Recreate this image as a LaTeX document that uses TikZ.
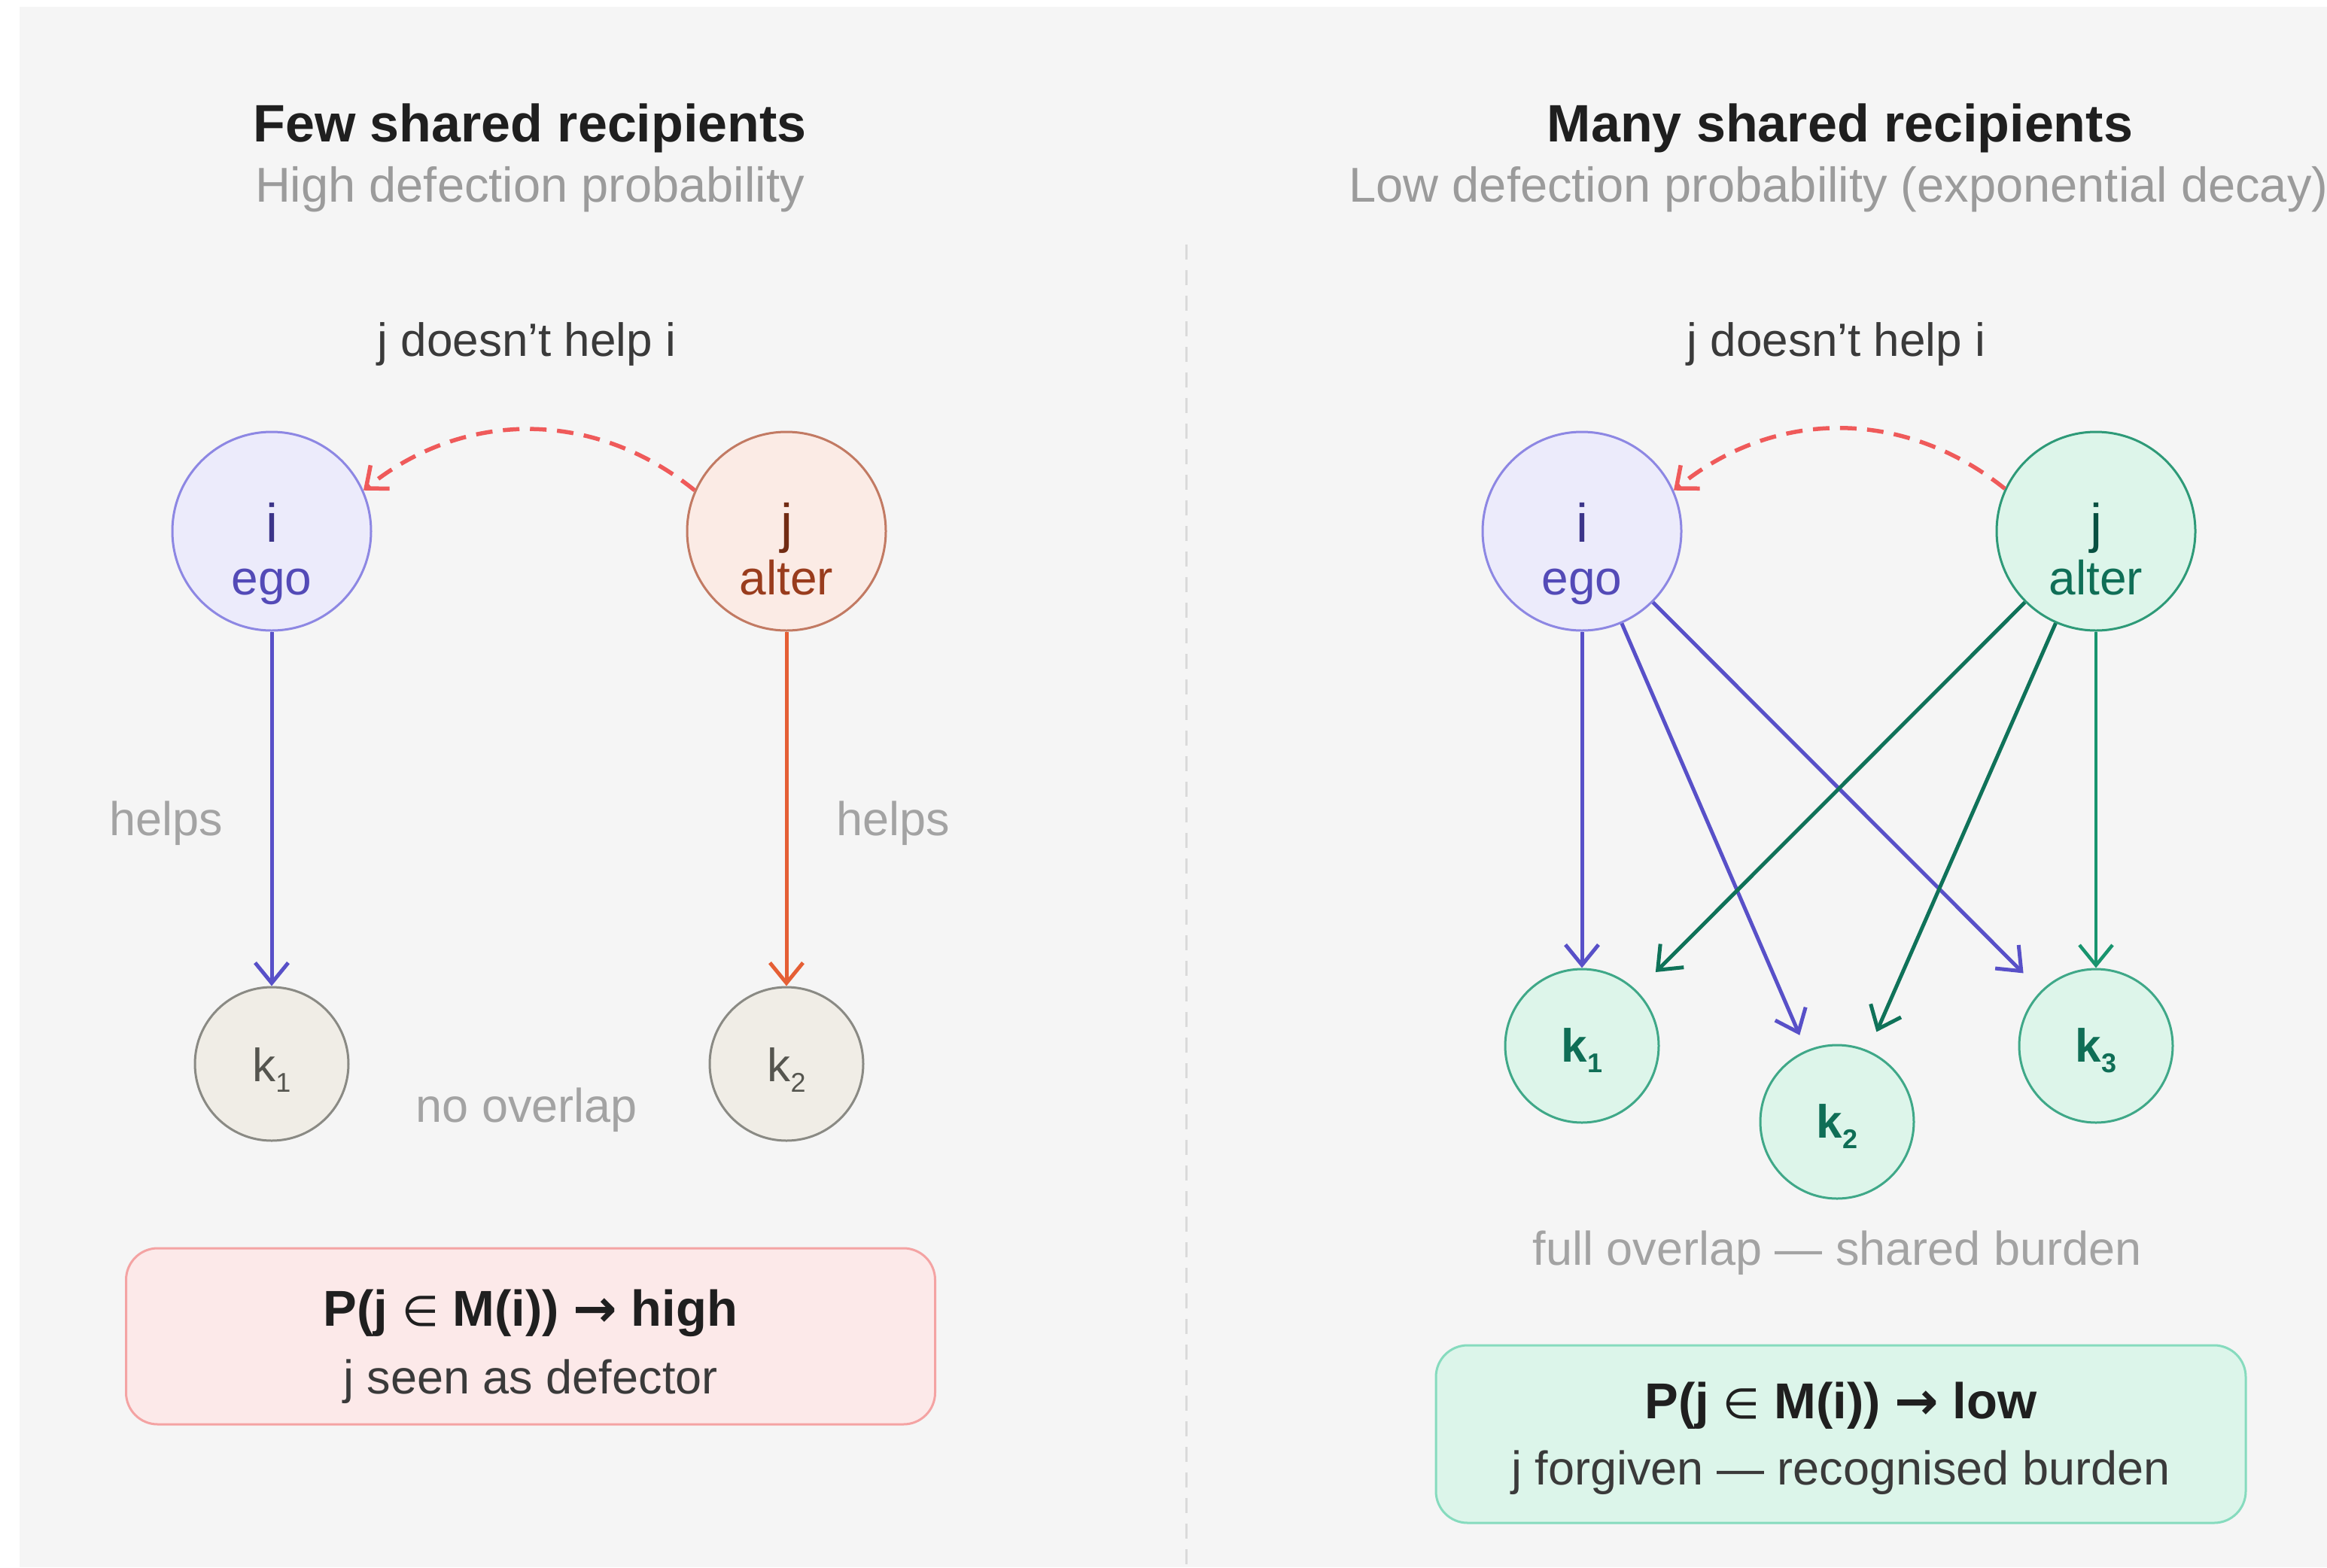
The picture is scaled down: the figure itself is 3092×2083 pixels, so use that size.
\documentclass[tikz,border=0pt]{standalone}
\usepackage{fontspec}
\setmainfont{Liberation Sans}
\newfontfamily\symf{DejaVu Sans}
\usetikzlibrary{arrows.meta,calc}
\newcommand\fsz[1]{\fontsize{#1}{#1}\selectfont}
\definecolor{bg}{HTML}{F5F5F5}
\definecolor{titlec}{HTML}{1F1F1F}
\definecolor{subc}{HTML}{9B9B9B}
\definecolor{labc}{HTML}{3A3A3A}
\definecolor{mutedc}{HTML}{A3A3A3}
\definecolor{egofill}{HTML}{ECEBFB}
\definecolor{egostroke}{HTML}{8D87E3}
\definecolor{egotxta}{HTML}{3C3489}
\definecolor{egotxtb}{HTML}{534AB7}
\definecolor{altfill}{HTML}{FBEBE5}
\definecolor{altstroke}{HTML}{C27A63}
\definecolor{alttxta}{HTML}{712B13}
\definecolor{alttxtb}{HTML}{993C1D}
\definecolor{tealfill}{HTML}{DDF5EA}
\definecolor{tealstroke}{HTML}{2E9A78}
\definecolor{tealtxta}{HTML}{085041}
\definecolor{tealtxtb}{HTML}{0F6E56}
\definecolor{grayfill}{HTML}{F0EDE6}
\definecolor{graystroke}{HTML}{8A8A84}
\definecolor{graytxt}{HTML}{55554F}
\definecolor{ktealstroke}{HTML}{3FA888}
\definecolor{arrIc}{HTML}{5850C8}
\definecolor{arrJc}{HTML}{E55F35}
\definecolor{arrGc}{HTML}{0F7259}
\definecolor{arrGv}{HTML}{18946E}
\definecolor{dashred}{HTML}{EF5A5A}
\definecolor{pinkfill}{HTML}{FCE9E9}
\definecolor{pinkstroke}{HTML}{F4A3A3}
\definecolor{greenfill}{HTML}{DCF5EA}
\definecolor{greenstroke}{HTML}{86DBBE}
\definecolor{divc}{HTML}{DADADA}
\begin{document}
\begin{tikzpicture}[x=1pt,y=-1pt,
  bignode/.style={circle, line width=3pt, minimum size=264pt, inner sep=0pt},
  egonode/.style={bignode, draw=egostroke, fill=egofill},
  altnode/.style={bignode, draw=altstroke, fill=altfill},
  tealnode/.style={bignode, draw=tealstroke, fill=tealfill},
  knode/.style={circle, line width=3pt, minimum size=204pt, inner sep=0pt},
  kgray/.style={knode, draw=graystroke, fill=grayfill},
  kteal/.style={knode, draw=ktealstroke, fill=tealfill},
  titletxt/.style={anchor=base, inner sep=0pt, text=titlec, font=\fsz{70}\bfseries},
  subtxt/.style={anchor=base, inner sep=0pt, text=subc, font=\fsz{65}},
  labtxt/.style={anchor=base, inner sep=0pt, text=labc, font=\fsz{62}},
  mutedtxt/.style={anchor=base, inner sep=0pt, text=mutedc, font=\fsz{63}},
  nodetxt/.style={anchor=base, inner sep=0pt, font=\fsz{64}},
  bigtxt/.style={anchor=base, inner sep=0pt, font=\fsz{72}},
  ktxt/.style={anchor=base, inner sep=0pt, font=\fsz{62}},
  boxhead/.style={anchor=base, inner sep=0pt, text=titlec, font=\fsz{67}\bfseries},
  boxsub/.style={anchor=base, inner sep=0pt, text=labc, font=\fsz{63}},
  barb/.style={-{Straight Barb[length=27pt,width=44pt]}},
  arrI/.style={barb, draw=arrIc, line width=5pt},
  arrJ/.style={barb, draw=arrJc, line width=5pt},
  arrG/.style={barb, draw=arrGc, line width=5pt},
  arrGvert/.style={barb, draw=arrGv, line width=4.5pt},
  dasharr/.style={-{Straight Barb[length=24pt,width=40pt]}, draw=dashred, line width=5.5pt, dash pattern=on 22pt off 14pt},
  resultbox/.style={rounded corners=42pt, line width=3pt, minimum width=1075pt, minimum height=234pt, inner sep=0pt}
]
\useasboundingbox (0,0) rectangle (3092,2083);
\fill[white] (0,0) rectangle (3092,2083);
\fill[bg] (26,9) rectangle (3092,2083);

% divider
\coordinate (dtop) at (1576,325);
\coordinate (dbot) at (1576,2083);
\draw[divc, line width=3pt, dash pattern=on 20pt off 14pt] (dtop) -- (dbot);

% ---------- left panel ----------
\node[titletxt] (t1) at (704,188) {Few shared recipients};
\node[subtxt] (s1) at (704,268) {High defection probability};
\node[labtxt] (h1) at (700,473) {j doesn't help i};

\node[egonode] (iL) at (361,706) {};
\node[altnode] (jL) at (1045,706) {};
\node[bigtxt, text=egotxta] (iLa) at ($(iL.center)+(0,14)$) {i};
\node[nodetxt, text=egotxtb] (iLb) at ($(iL.center)+(0,84)$) {ego};
\node[bigtxt, text=alttxta] (jLa) at ($(jL.center)+(0,14)$) {j};
\node[nodetxt, text=alttxtb] (jLb) at ($(jL.center)+(0,84)$) {alter};

\node[kgray] (k1L) at (361,1414) {};
\node[kgray] (k2L) at (1045,1414) {};
\node[ktxt, text=graytxt] (k1La) at ($(k1L.center)+(0,23)$) {k\raisebox{-14pt}{\fsz{36}1}};
\node[ktxt, text=graytxt] (k2La) at ($(k2L.center)+(0,23)$) {k\raisebox{-14pt}{\fsz{36}2}};

\draw[arrI] (iL) -- (k1L);
\draw[arrJ] (jL) -- (k2L);
\draw[dasharr] (jL.156) to[bend right=39] (iL.24);

\node[mutedtxt] (hpL) at (221,1110) {helps};
\node[mutedtxt] (hpR) at (1187,1110) {helps};
\node[mutedtxt] (noov) at (700,1491) {no overlap};

\node[resultbox, draw=pinkstroke, fill=pinkfill] (bL) at (705,1776) {};
\node[boxhead] (bLa) at (705,1762) {P(j {\symf\fsz{56}\mdseries ∈} M(i)) {\symf\fsz{70}\raisebox{-1pt}{→}} high};
\node[boxsub] (bLb) at (705,1852) {j seen as defector};

% ---------- right panel ----------
\node[titletxt] (t2) at (2445,188) {Many shared recipients};
\node[subtxt] (s2) at (2443,268) {Low defection probability (exponential decay)};
\node[labtxt] (h2) at (2440,473) {j doesn't help i};

\node[egonode] (iR) at (2102,706) {};
\node[tealnode] (jR) at (2785,706) {};
\node[bigtxt, text=egotxta] (iRa) at ($(iR.center)+(0,14)$) {i};
\node[nodetxt, text=egotxtb] (iRb) at ($(iR.center)+(0,84)$) {ego};
\node[bigtxt, text=tealtxta] (jRa) at ($(jR.center)+(0,14)$) {j};
\node[nodetxt, text=tealtxtb] (jRb) at ($(jR.center)+(0,84)$) {alter};

\node[kteal] (k1R) at (2102,1390) {};
\node[kteal] (k2R) at (2441,1491) {};
\node[kteal] (k3R) at (2785,1390) {};
\node[ktxt, text=tealtxtb, font=\fsz{62}\bfseries] (k1Ra) at ($(k1R.center)+(0,21)$) {k\raisebox{-14pt}{\fsz{36}1}};
\node[ktxt, text=tealtxtb, font=\fsz{62}\bfseries] (k2Ra) at ($(k2R.center)+(0,21)$) {k\raisebox{-14pt}{\fsz{36}2}};
\node[ktxt, text=tealtxtb, font=\fsz{62}\bfseries] (k3Ra) at ($(k3R.center)+(0,21)$) {k\raisebox{-14pt}{\fsz{36}3}};

\draw[arrI] (iR) -- (k1R);
\draw[arrI, shorten >=22pt] (iR) -- (k2R);
\draw[arrI, shorten >=33pt] (iR) -- (k3R);
\draw[arrG, shorten >=35pt] (jR) -- (k1R);
\draw[arrG, shorten >=27pt] (jR) -- (k2R);
\draw[arrGvert] (jR) -- (k3R);
\draw[dasharr] (jR.155) to[bend right=39] (iR.24);

\node[mutedtxt] (fullov) at (2441,1681) {full overlap — shared burden};

\node[resultbox, draw=greenstroke, fill=greenfill, minimum width=1076pt, minimum height=236pt] (bR) at (2446,1906) {};
\node[boxhead] (bRa) at (2446,1885) {P(j {\symf\fsz{56}\mdseries ∈} M(i)) {\symf\fsz{70}\raisebox{-1pt}{→}} low};
\node[boxsub] (bRb) at (2446,1973) {j forgiven — recognised burden};
\end{tikzpicture}
\end{document}
